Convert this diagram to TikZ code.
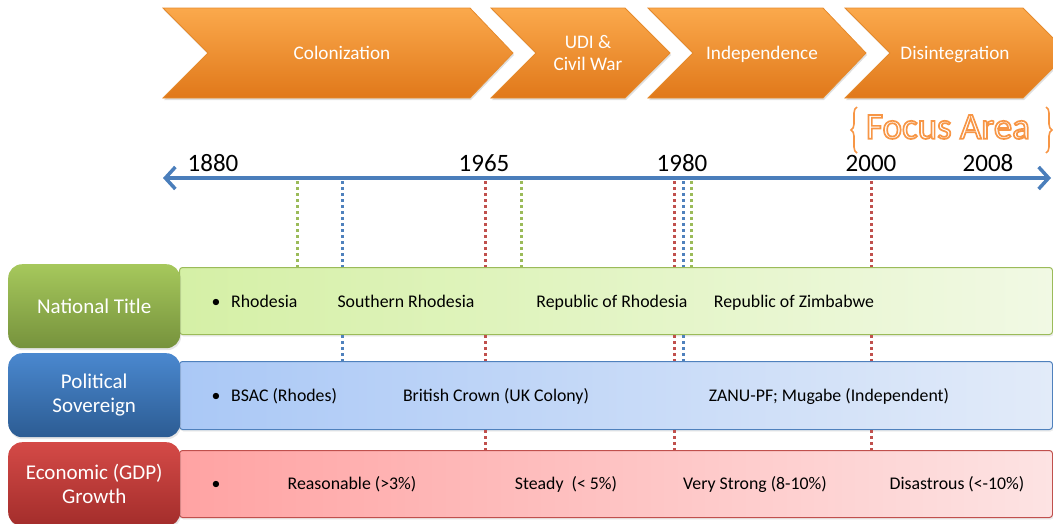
\documentclass[tikz,border=0pt]{standalone}
\usepackage{fontspec}
\setmainfont{Carlito}
\usetikzlibrary{arrows.meta,shadows,decorations.pathreplacing,calc}
\definecolor{chevtop}{HTML}{FBA94C}
\definecolor{chevbot}{HTML}{E0781A}
\definecolor{chevedge}{HTML}{E58A2C}
\definecolor{focusor}{HTML}{F79646}
\definecolor{axisblue}{HTML}{4A7EBB}
\definecolor{dgreen}{HTML}{9BBB59}
\definecolor{dblue}{HTML}{4F81BD}
\definecolor{dred}{HTML}{C0504D}
\definecolor{lgtop}{HTML}{A6C85C}
\definecolor{lgbot}{HTML}{76923C}
\definecolor{lbtop}{HTML}{4A88CF}
\definecolor{lbbot}{HTML}{2C5C93}
\definecolor{lrtop}{HTML}{D44A47}
\definecolor{lrbot}{HTML}{A32D2B}
\definecolor{bgl}{HTML}{D5F0A6}
\definecolor{bgr}{HTML}{F1F9E4}
\definecolor{bbl}{HTML}{AAC8F6}
\definecolor{bbr}{HTML}{E2EBF9}
\definecolor{brl}{HTML}{FFA3A3}
\definecolor{brr}{HTML}{FDE3E3}
\newcommand{\outlinetext}[1]{\special{pdf:literal direct 2 Tr 1.7 w 0.969 0.588 0.275 RG}#1\special{pdf:literal direct 0 Tr}}
\begin{document}
\begin{tikzpicture}[x=1pt,y=-1pt,
  chev/.style={top color=chevtop, bottom color=chevbot, draw=chevedge, line width=0.8pt,
    drop shadow={opacity=0.25, shadow xshift=1pt, shadow yshift=-2pt}},
  chevtext/.style={text=white, font=\fontsize{19.2}{22.5}\selectfont, align=center, inner sep=0pt},
  year/.style={font=\fontsize{25}{28}\selectfont, inner sep=0pt},
  axis/.style={draw=axisblue, line width=3.5pt, {Straight Barb[length=10pt,width=22pt]}-{Straight Barb[length=10pt,width=22pt]}},
  dotline/.style={line width=3pt, dash pattern=on 3pt off 3pt},
  lbl/.style={rounded corners=14pt, anchor=north west, minimum width=172pt, minimum height=84pt,
    text=white, font=\fontsize{21}{24}\selectfont, align=center, inner sep=0pt,
    drop shadow={opacity=0.2, shadow xshift=1pt, shadow yshift=-2pt}},
  band/.style={rounded corners=3pt, anchor=north west, minimum width=873pt, line width=1pt,
    drop shadow={opacity=0.15, shadow xshift=1pt, shadow yshift=-2pt}},
  btext/.style={font=\fontsize{17.8}{20}\selectfont, inner sep=0pt, anchor=base},
  focus/.style={font=\fontsize{37}{40}\selectfont, inner sep=0pt}
]
\useasboundingbox (0,0) rectangle (1053,523);

% chevrons
\draw[chev] (163,8) -- (470,8) -- (513,53) -- (470,98) -- (163,98) -- (208,53) -- cycle;
\draw[chev] (491,8) -- (625,8) -- (670,53) -- (625,98) -- (491,98) -- (536,53) -- cycle;
\draw[chev] (648,8) -- (823,8) -- (866,53) -- (823,98) -- (648,98) -- (693,53) -- cycle;
\draw[chev] (845,8) -- (1023,8) -- (1068,53) -- (1023,98) -- (845,98) -- (890,53) -- cycle;
\node[chevtext, anchor=base] (colon) at (342,59) {Colonization};
\node[chevtext] (udi) at (588,53) {UDI \&\\Civil War};
\node[chevtext, anchor=base] (indep) at (762,59) {Independence};
\node[chevtext, anchor=base] (disint) at (955,59) {Disintegration};

% focus area
\coordinate (fc) at (948,127);
\node[focus, text=white] (focusarea) at (fc) {\outlinetext{Focus Area}};
\coordinate (blt) at (857,107);
\coordinate (blb) at (857,153);
\coordinate (brt) at (1046,107);
\coordinate (brb) at (1046,153);
\draw[focusor, line width=1.6pt, decorate, decoration={brace, amplitude=6pt}] (blb) -- (blt);
\draw[focusor, line width=1.6pt, decorate, decoration={brace, amplitude=6pt}] (brt) -- (brb);

% years
\node[year, anchor=base] (y1880) at (213,171) {1880};
\node[year, anchor=base] (y1965) at (484,171) {1965};
\node[year, anchor=base] (y1980) at (682,171) {1980};
\node[year, anchor=base] (y2000) at (871,171) {2000};
\node[year, anchor=base] (y2008) at (988,171) {2008};

% bands
\node[band, left color=bgl, right color=bgr, draw=dgreen, minimum height=67pt] (gband) at (179,267) {};
\node[band, left color=bbl, right color=bbr, draw=dblue, minimum height=68pt] (bband) at (179,361) {};
\node[band, left color=brl, right color=brr, draw=dred, minimum height=67pt] (rband) at (179,450) {};

% dotted markers
\coordinate (g1) at (297,181);
\coordinate (b1) at (342,181);
\coordinate (r1) at (485,181);
\coordinate (g2) at (521,181);
\coordinate (r2) at (674,181);
\coordinate (b2) at (683,181);
\coordinate (g3) at (691,181);
\coordinate (r3) at (871,181);
\foreach \p in {g1,g2,g3} \draw[dotline, dgreen] (\p) -- (\p |- gband.north);
\foreach \p in {b1,b2} {
  \draw[dotline, dblue] (\p) -- (\p |- gband.north);
  \draw[dotline, dblue] (\p |- gband.south) -- (\p |- bband.north);
}
\foreach \p in {r1,r2,r3} {
  \draw[dotline, dred] (\p) -- (\p |- gband.north);
  \draw[dotline, dred] (\p |- gband.south) -- (\p |- bband.north);
  \draw[dotline, dred] (\p |- bband.south) -- (\p |- rband.north);
}

% axis
\coordinate (axL) at (163,178);
\coordinate (axR) at (1051,178);
\draw[axis] (axL) -- (axR);

% label boxes
\node[lbl, top color=lgtop, bottom color=lgbot] (ntitle) at (8,264) {National Title};
\node[lbl, top color=lbtop, bottom color=lbbot] (psov) at (8,353) {Political\\Sovereign};
\node[lbl, top color=lrtop, bottom color=lrbot] (egrow) at (8,442) {Economic (GDP)\\Growth};

% band texts
\node[btext] (gbul) at (216,307) {•};
\node[btext, anchor=base west] (t1) at (231,307) {Rhodesia};
\node[btext] (t2) at (406,307) {Southern Rhodesia};
\node[btext] (t3) at (612,307) {Republic of Rhodesia};
\node[btext] (t4) at (794,307) {Republic of Zimbabwe};

\node[btext] (bbul) at (216,401) {•};
\node[btext, anchor=base west] (s1) at (231,401) {BSAC (Rhodes)};
\node[btext] (s2) at (496,401) {British Crown (UK Colony)};
\node[btext] (s3) at (829,401) {ZANU-PF; Mugabe (Independent)};

\node[btext] (rbul) at (216,489) {•};
\node[btext] (e1) at (352,489) {Reasonable (>3\%)};
\node[btext] (e2) at (566,489) {Steady~~(< 5\%)};
\node[btext] (e3) at (755,489) {Very Strong (8-10\%)};
\node[btext] (e4) at (957,489) {Disastrous (<-10\%)};
\end{tikzpicture}
\end{document}
